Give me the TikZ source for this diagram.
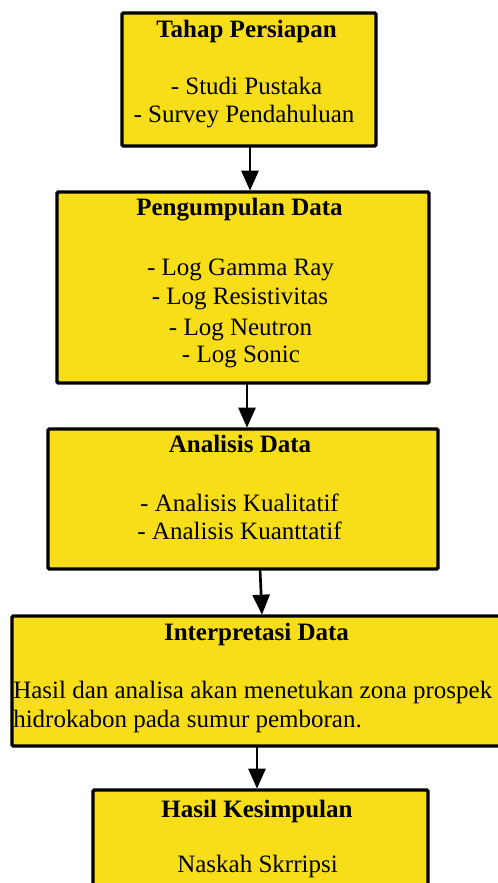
\documentclass[tikz,border=0pt]{standalone}
\usepackage{fontspec}
\setmainfont{Liberation Serif}
\usetikzlibrary{arrows.meta}
\definecolor{boxyellow}{RGB}{248,222,24}
\tikzset{
  box/.style={draw=black, fill=boxyellow, line width=2.6pt, rounded corners=1pt,
    anchor=north west, inner sep=0pt, outer sep=0pt},
  ttl/.style={anchor=base, inner sep=0pt, font=\fontsize{18.75pt}{21pt}\selectfont\bfseries},
  txt/.style={anchor=base, inner sep=0pt, font=\fontsize{18.75pt}{21pt}\selectfont},
  txtl/.style={anchor=base west, inner sep=0pt, font=\fontsize{18.75pt}{21pt}\selectfont},
  arr/.style={line width=2pt, -{Triangle[width=12.75pt,length=15pt]}}
}
\begin{document}
\begin{tikzpicture}[x=0.75pt,y=-0.75pt]
\useasboundingbox (0,0) rectangle (498,883);
\clip (0,0) rectangle (498,883);
% boxes
\node[box, minimum width=190.5pt, minimum height=99.75pt] (b1) at (122,13) {};
\node[box, minimum width=279pt, minimum height=143.25pt] (b2) at (57,192) {};
\node[box, minimum width=292.5pt, minimum height=105pt] (b3) at (48,429) {};
\node[box, minimum width=381pt, minimum height=97.5pt] (b4) at (12,616) {};
\node[box, minimum width=251.25pt, minimum height=90pt] (b5) at (93,790) {};
% texts box 1
\node[ttl] (t1) at (246.5,37) {Tahap Persiapan};
\node[txt] (t1a) at (246.5,94) {- Studi Pustaka};
\node[txt] (t1b) at (244,122) {- Survey Pendahuluan};
% texts box 2
\node[ttl] (t2) at (239.5,215) {Pengumpulan Data};
\node[txt] (t2a) at (240.5,275) {- Log Gamma Ray};
\node[txt] (t2b) at (240,304) {- Log Resistivitas};
\node[txt] (t2c) at (240.5,335) {- Log Neutron};
\node[txt] (t2d) at (241,362) {- Log Sonic};
% texts box 3
\node[ttl] (t3) at (240,452) {Analisis Data};
\node[txt] (t3a) at (239.5,511) {- Analisis Kualitatif};
\node[txt] (t3b) at (239.5,539) {- Analisis Kuanttatif};
% texts box 4
\node[ttl] (t4) at (256.5,640) {Interpretasi Data};
\node[txtl] (t4a) at (13,698) {Hasil dan analisa akan menetukan zona prospek};
\node[txtl] (t4b) at (13,727) {hidrokabon pada sumur pemboran.};
% texts box 5
\node[ttl] (t5) at (257,817) {Hasil Kesimpulan};
\node[txt] (t5a) at (257.5,872) {Naskah Skrripsi};
% arrows
\draw[arr] ([xshift=0.75pt]b1.south) -- ([xshift=0.75pt,yshift=1pt]b1.south |- b2.north);
\draw[arr] ([xshift=3pt]b2.south) -- ([xshift=3pt,yshift=1pt]b2.south |- b3.north);
\draw[arr] ([xshift=12.75pt]b3.south) -- ([xshift=14.25pt,yshift=1pt]b3.south |- b4.north);
\draw[arr] ([xshift=-2.625pt]b5.north |- b4.south) -- ([xshift=-2.625pt,yshift=1pt]b5.north);
\end{tikzpicture}
\end{document}
